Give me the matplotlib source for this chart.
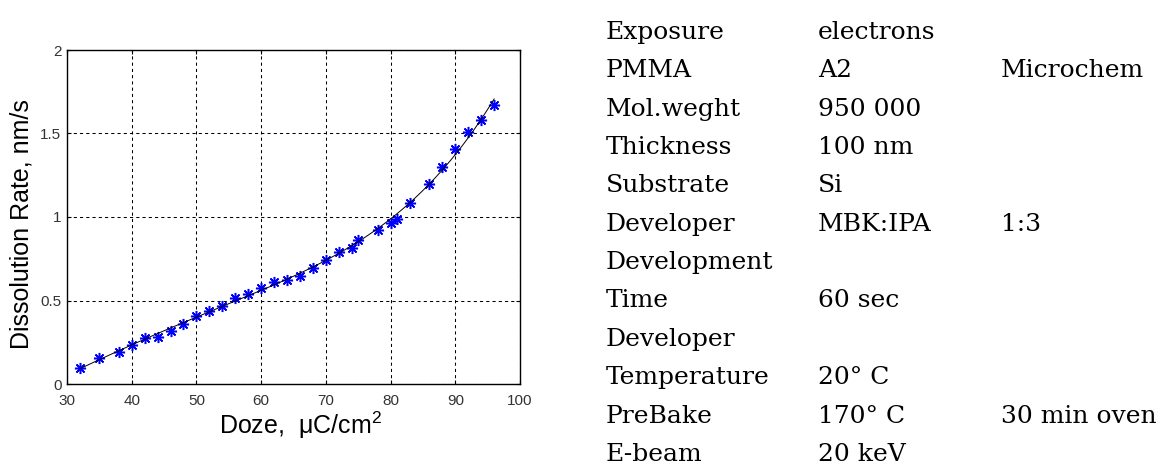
import numpy as np
import matplotlib
matplotlib.use("Agg")
import matplotlib.pyplot as plt

# measured points
dose = [32, 35, 38, 40, 42, 44, 46, 48, 50, 52, 54, 56, 58, 60, 62, 64,
        66, 68, 70, 72, 74, 75, 78, 80, 81, 83, 86, 88, 90, 92, 94, 96]
rate = [0.094, 0.157, 0.193, 0.234, 0.274, 0.283, 0.317, 0.357, 0.407,
        0.439, 0.469, 0.513, 0.537, 0.573, 0.609, 0.623, 0.649, 0.697,
        0.743, 0.789, 0.816, 0.862, 0.922, 0.966, 0.988, 1.086, 1.198,
        1.298, 1.405, 1.511, 1.581, 1.671]

# process table
params = ["Exposure", "PMMA", "Mol.weght", "Thickness", "Substrate",
          "Developer", "Development", "Time", "Developer", "Temperature",
          "PreBake", "E-beam"]
values = ["electrons", "A2", "950 000", "100 nm", "Si", "MBK:IPA", "",
          "60 sec", "", "20° C", "170° C", "20 keV"]
notes = ["", "Microchem", "", "", "", "1:3", "", "", "", "",
         "30 min oven", ""]

W, H = 1169, 465
fig = plt.figure(figsize=(W / 100, H / 100), dpi=100)
ax = fig.add_axes([67 / W, 1 - 384 / H, 453 / W, 334 / H])

# smooth fit through the points
x = np.array(dose, dtype=float)
y = np.array(rate)
coef = np.polyfit(x, y, 4)
xf = np.linspace(x.min(), x.max(), 300)
ax.plot(x, y, linestyle="none", marker=(8, 2, 0), markersize=8,
        markeredgecolor="#0000ff", markeredgewidth=1.1, zorder=3)
ax.plot(xf, np.polyval(coef, xf), color="black", linewidth=0.7, zorder=4)

ax.set_xlim(30, 100)
ax.set_ylim(0, 2)
ax.set_xticks(range(30, 101, 10))
ax.set_yticks([0, 0.5, 1, 1.5, 2])
ax.set_yticklabels(["0", "0.5", "1", "1.5", "2"])
ax.grid(True, color="black", linestyle=(0, (3, 3)), linewidth=0.75)
ax.tick_params(direction="in", length=3, width=0.8, top=True, right=True,
               labelsize=11, labelcolor="#333333")
ax.tick_params(axis="x", pad=7)
ax.tick_params(axis="y", pad=4)
for lab in ax.get_xticklabels() + ax.get_yticklabels():
    lab.set_family("Liberation Sans")
for s in ax.spines.values():
    s.set_linewidth(1.0)

ax.set_xlabel("Doze,  μC/cm$^{\\mathregular{2}}$", fontsize=18,
              family="Liberation Sans")
ax.set_ylabel("Dissolution Rate, nm/s", fontsize=18,
              family="Liberation Sans")
ax.xaxis.set_label_coords((301 - 67) / 453, -(410 - 384) / 334)
ax.yaxis.set_label_coords(-(67 - 34) / 453, (384 - 224) / 334)

# table on the right
for i in range(len(params)):
    yb = 1 - (39 + i * 38.35) / H
    fig.text(606 / W, yb, params[i], fontsize=18, family="DejaVu Serif",
             va="baseline")
    fig.text(818 / W, yb, values[i], fontsize=18, family="DejaVu Serif",
             va="baseline")
    fig.text(1001 / W, yb, notes[i], fontsize=18, family="DejaVu Serif",
             va="baseline")

fig.savefig("out.png", dpi=100)
